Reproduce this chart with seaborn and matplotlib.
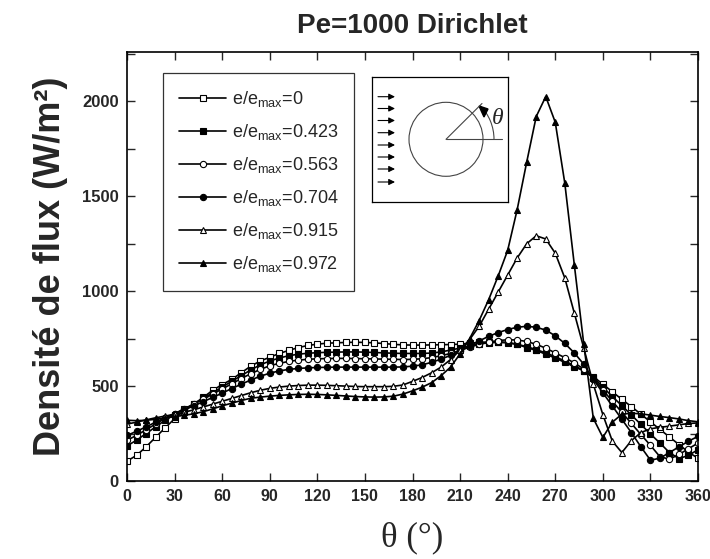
import numpy as np
import pandas as pd
import matplotlib
matplotlib.use("Agg")
import matplotlib.pyplot as plt
import seaborn as sns
from matplotlib.patches import Circle, Arc, Polygon

# ---------------- data ----------------
theta = list(range(0, 361, 6))

flux_0 = [105, 135, 180, 230, 280, 328, 370, 405, 440, 478, 508, 535, 570, 605, 632, 652,
          672, 688, 703, 714, 721, 726, 728, 730, 731, 730, 728, 724, 720, 717, 716, 716,
          717, 718, 719, 721, 726, 730, 733, 734, 730, 720, 703, 688, 668, 648, 625, 602,
          580, 550, 510, 470, 430, 392, 352, 312, 272, 232, 192, 152, 120]
flux_0423 = [185, 215, 250, 285, 320, 350, 378, 405, 435, 465, 495, 525, 555, 585, 612, 632,
             648, 660, 668, 673, 676, 678, 679, 680, 680, 679, 677, 675, 673, 672, 672, 672,
             674, 680, 690, 700, 712, 722, 728, 730, 728, 720, 708, 692, 675, 655, 632, 608,
             582, 545, 495, 445, 397, 348, 298, 248, 200, 150, 118, 135, 165]
flux_0563 = [215, 240, 270, 300, 330, 355, 380, 405, 430, 458, 485, 512, 540, 565, 588, 607,
             620, 630, 637, 641, 644, 645, 646, 646, 645, 644, 643, 642, 641, 640, 641, 644,
             650, 660, 672, 688, 705, 720, 732, 740, 744, 743, 735, 720, 700, 675, 650, 622,
             590, 540, 480, 420, 362, 303, 245, 188, 128, 115, 140, 170, 200]
flux_0704 = [240, 262, 285, 310, 333, 355, 375, 395, 418, 440, 463, 487, 510, 532, 552, 568,
             580, 588, 593, 596, 598, 599, 600, 600, 600, 600, 600, 600, 600, 601, 605, 612,
             625, 642, 662, 685, 712, 738, 762, 782, 798, 810, 815, 810, 795, 765, 725, 675,
             615, 535, 465, 395, 325, 255, 180, 110, 120, 150, 180, 210, 235]
flux_0915 = [300, 310, 322, 333, 342, 352, 362, 375, 390, 405, 420, 435, 450, 465, 478, 488,
             495, 500, 503, 505, 505, 504, 502, 500, 498, 497, 497, 497, 499, 506, 525, 545,
             570, 600, 640, 690, 745, 815, 905, 995, 1085, 1175, 1250, 1292, 1275, 1200, 1070, 885,
             700, 510, 350, 210, 150, 213, 255, 275, 283, 289, 296, 303, 306]
flux_0972 = [320, 318, 320, 325, 332, 339, 346, 354, 365, 380, 396, 410, 424, 436, 442, 447,
             451, 454, 456, 457, 456, 454, 451, 448, 445, 443, 442, 443, 447, 458, 475, 494,
             518, 555, 600, 670, 750, 845, 955, 1080, 1215, 1430, 1680, 1920, 2025, 1890, 1570, 1140,
             720, 330, 230, 310, 352, 357, 354, 347, 340, 334, 327, 318, 312]

labels = [r"e/e$_{\mathrm{max}}$=0", r"e/e$_{\mathrm{max}}$=0.423", r"e/e$_{\mathrm{max}}$=0.563",
          r"e/e$_{\mathrm{max}}$=0.704", r"e/e$_{\mathrm{max}}$=0.915", r"e/e$_{\mathrm{max}}$=0.972"]
series = [flux_0, flux_0423, flux_0563, flux_0704, flux_0915, flux_0972]
xticks = list(range(0, 361, 30))
yticks = list(range(0, 2251, 250))
ytick_labels = ["0", "", "500", "", "1000", "", "1500", "", "2000", ""]

df = pd.concat([pd.DataFrame({"theta": theta, "flux": s, "label": l})
                for s, l in zip(series, labels)], ignore_index=True)

# ---------------- style ----------------
sns.set_style("ticks")
plt.rcParams["font.family"] = ["Liberation Sans", "DejaVu Sans"]
plt.rcParams["mathtext.fontset"] = "custom"
plt.rcParams["mathtext.rm"] = "Liberation Sans"
plt.rcParams["mathtext.default"] = "regular"

fig = plt.figure(figsize=(7.1, 5.59), dpi=100)
ax = fig.add_axes([0.1789, 0.1395, 0.8042, 0.7675])

markers = ["s", "s", "o", "o", "^", "^"]
faces = ["white", "black", "white", "black", "white", "black"]
for lab, m, fc in zip(labels, markers, faces):
    sub = df[df["label"] == lab]
    sns.lineplot(data=sub, x="theta", y="flux", ax=ax, color="black", lw=1.2,
                 marker=m, markersize=4.5, markerfacecolor=fc, markeredgecolor="black",
                 markeredgewidth=0.8, label=lab, sort=False)

ax.set_xlim(0, 360)
ax.set_ylim(0, 2260)
ax.set_xticks(xticks)
ax.set_xticklabels([str(t) for t in xticks], fontweight="bold", fontsize=11.5)
ax.set_yticks(yticks)
ax.set_yticklabels(ytick_labels, fontweight="bold", fontsize=12)
ax.tick_params(direction="in", length=6, width=1, top=True, right=True, pad=6)
for sp in ax.spines.values():
    sp.set_linewidth(1.2)
    sp.set_color("black")

ax.set_xlabel("θ (°)", family=["Liberation Serif", "DejaVu Serif"], fontsize=25, labelpad=12)
ax.set_ylabel("Densité de flux (W/m²)", fontweight="bold", fontsize=26, labelpad=10)
ax.set_title("Pe=1000 Dirichlet", fontweight="bold", fontsize=20, pad=14)

leg = ax.legend(loc="upper left", bbox_to_anchor=(0.063, 0.951), borderaxespad=0,
                frameon=True, fancybox=False, fontsize=13, handlelength=2.6,
                labelspacing=0.72, borderpad=0.9, handletextpad=0.3)
leg.get_frame().set_edgecolor("black")
leg.get_frame().set_linewidth(0.9)

# ---------------- inset schematic ----------------
ins = fig.add_axes([372 / 710, 1 - 202 / 559, 136 / 710, 125 / 559])
ins.set_xlim(372, 508)
ins.set_ylim(202, 77)
ins.set_xticks([])
ins.set_yticks([])
for sp in ins.spines.values():
    sp.set_linewidth(0.9)
    sp.set_color("black")
for yy in [96.7, 108.5, 120.5, 132.7, 145, 157, 169, 182]:
    ins.annotate("", xy=(395, yy), xytext=(378, yy),
                 arrowprops=dict(arrowstyle="-|>", color="black", lw=0.8,
                                 mutation_scale=9, shrinkA=0, shrinkB=0))
cx, cy, r = 446, 139.3, 37
ins.add_patch(Circle((cx, cy), r, fill=False, ec="#444444", lw=0.8))
ins.plot([cx, 502], [cy, cy], color="#444444", lw=0.8)
ins.plot([cx, 482], [cy, 103.5], color="#444444", lw=0.8)
ins.add_patch(Arc((cx, cy), 96, 96, theta1=-45, theta2=0, color="#444444", lw=0.8))
ins.add_patch(Polygon([[479, 106], [488, 109], [484, 117]], closed=True, color="black"))
ins.text(498, 118, "θ", fontsize=17, family=["Liberation Serif", "DejaVu Serif"],
         ha="center", va="center", style="italic")

fig.savefig("out.png", dpi=100)
